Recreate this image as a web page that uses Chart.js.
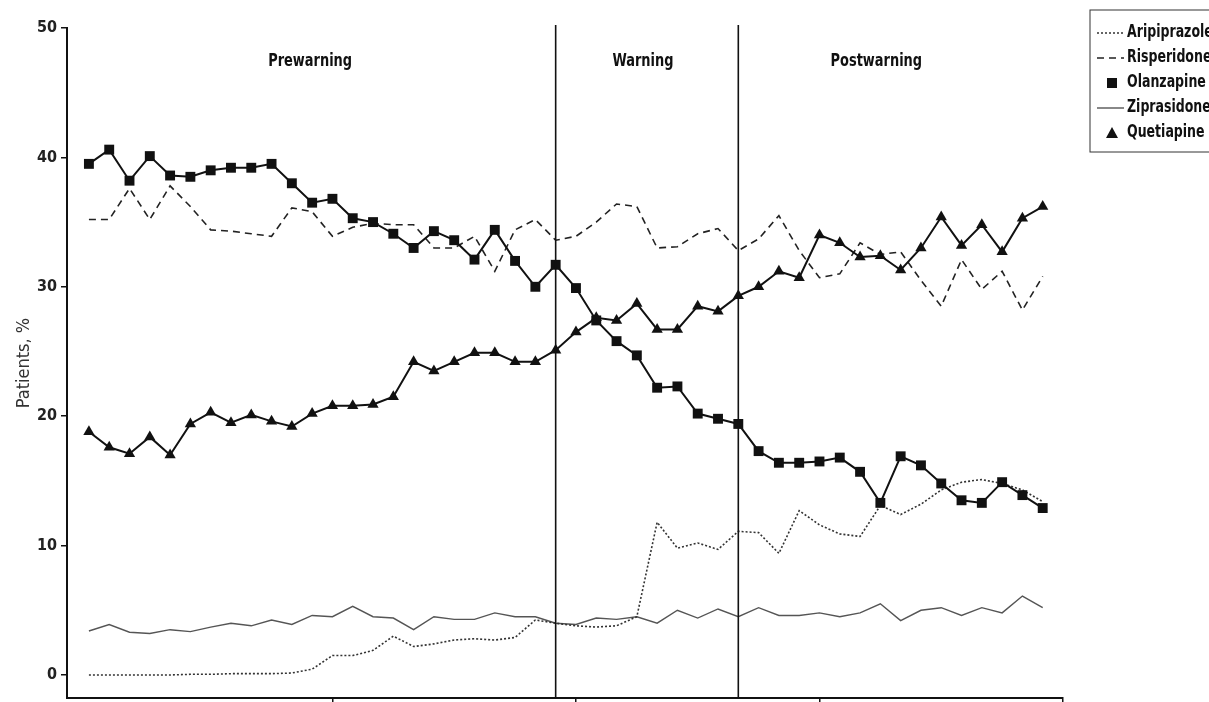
<!DOCTYPE html>
<html lang="en">
<head>
<meta charset="UTF-8">
<title>Antipsychotic use by period</title>
<script src="https://cdn.jsdelivr.net/npm/chart.js"></script>
<style>
  html, body { margin: 0; padding: 0; background: #fff; }
  #wrap { width: 1209px; height: 702px; }
</style>
</head>
<body>
<div id="wrap"><canvas id="myChart" width="1209" height="702"></canvas></div>
<script>
    // month index 0..47
    var meses = [];
    for (var m = 0; m < 48; m++) meses.push(m);

    var aripiprazole = [0.0, 0.0, 0.0, 0.0, 0.0, 0.05, 0.05, 0.1, 0.1, 0.1, 0.15, 0.45,
        1.5, 1.5, 1.9, 3.0, 2.2, 2.4, 2.7, 2.8, 2.7, 2.9, 4.25, 4.0,
        3.8, 3.7, 3.8, 4.5, 11.8, 9.8, 10.2, 9.7, 11.1, 11.0, 9.4, 12.7,
        11.6, 10.9, 10.7, 13.1, 12.4, 13.2, 14.3, 14.9, 15.1, 14.8, 14.3, 13.4];

    var risperidone = [35.2, 35.2, 37.6, 35.2, 37.8, 36.2, 34.4, 34.3, 34.1, 33.9, 36.1, 35.8,
        33.9, 34.6, 34.9, 34.8, 34.8, 33.0, 33.0, 33.9, 31.2, 34.4, 35.2, 33.6,
        33.9, 35.0, 36.4, 36.2, 33.0, 33.1, 34.1, 34.5, 32.8, 33.7, 35.5, 32.8,
        30.7, 31.0, 33.4, 32.5, 32.7, 30.5, 28.5, 32.1, 29.8, 31.2, 28.2, 30.8];

    var olanzapine = [39.5, 40.6, 38.2, 40.1, 38.6, 38.5, 39.0, 39.2, 39.2, 39.5, 38.0, 36.5,
        36.8, 35.3, 35.0, 34.1, 33.0, 34.3, 33.6, 32.1, 34.4, 32.0, 30.0, 31.7,
        29.9, 27.4, 25.8, 24.7, 22.2, 22.3, 20.2, 19.8, 19.4, 17.3, 16.4, 16.4,
        16.5, 16.8, 15.7, 13.3, 16.9, 16.2, 14.8, 13.5, 13.3, 14.9, 13.9, 12.9];

    var ziprasidone = [3.4, 3.9, 3.3, 3.2, 3.5, 3.35, 3.7, 4.0, 3.8, 4.25, 3.9, 4.6,
        4.5, 5.3, 4.5, 4.4, 3.5, 4.5, 4.3, 4.3, 4.8, 4.5, 4.5, 4.0,
        3.9, 4.4, 4.3, 4.5, 4.0, 5.0, 4.4, 5.1, 4.5, 5.2, 4.6, 4.6,
        4.8, 4.5, 4.8, 5.5, 4.2, 5.0, 5.2, 4.6, 5.2, 4.8, 6.1, 5.2];

    var quetiapine = [18.8, 17.6, 17.1, 18.4, 17.0, 19.4, 20.3, 19.5, 20.1, 19.6, 19.2, 20.2,
        20.8, 20.8, 20.9, 21.5, 24.2, 23.5, 24.2, 24.9, 24.9, 24.2, 24.2, 25.1,
        26.5, 27.6, 27.4, 28.7, 26.7, 26.7, 28.5, 28.1, 29.3, 30.0, 31.2, 30.7,
        34.0, 33.4, 32.3, 32.4, 31.3, 33.0, 35.4, 33.2, 34.8, 32.7, 35.3, 36.2];

    var ticksY = [0, 10, 20, 30, 40, 50];
    var ticksX = [12, 24, 36, 48];

    // periodos: limites (indice do mes) e nomes
    var limitesPeriodo = [23, 32];
    var nomesPeriodo = ['Prewarning', 'Warning', 'Postwarning'];
    var centrosPeriodo = [10.9, 27.3, 38.8];

    var fonte = "'Liberation Sans Narrow', 'DejaVu Sans Condensed', 'Arial Narrow', sans-serif";

    function pontos(serie) {
        return serie.map(function (v, i) { return { x: meses[i], y: v }; });
    }

    // texto mais estreito (a fonte do original e condensada)
    function textoEstreito(ctx, txt, x, y, fator) {
        ctx.save();
        ctx.translate(x, y);
        ctx.scale(fator, 1);
        ctx.fillText(txt, 0, 0);
        ctx.restore();
    }

    var dados = {
        datasets: [{
            label: 'Aripiprazole',
            data: pontos(aripiprazole),
            borderColor: '#333',
            borderWidth: 1.6,
            borderDash: [2, 2],
            pointRadius: 0,
            order: 1
        }, {
            label: 'Risperidone',
            data: pontos(risperidone),
            borderColor: '#222',
            borderWidth: 1.6,
            borderDash: [7, 5],
            pointRadius: 0,
            order: 1
        }, {
            label: 'Olanzapine',
            data: pontos(olanzapine),
            borderColor: '#111',
            backgroundColor: '#111',
            borderWidth: 2,
            pointStyle: 'rect',
            pointRadius: 7,
            pointBorderWidth: 0,
            order: 0
        }, {
            label: 'Ziprasidone',
            data: pontos(ziprasidone),
            borderColor: '#555',
            borderWidth: 1.4,
            pointRadius: 0,
            order: 1
        }, {
            label: 'Quetiapine',
            data: pontos(quetiapine),
            borderColor: '#111',
            backgroundColor: '#111',
            borderWidth: 2,
            pointStyle: 'triangle',
            pointRadius: 6.5,
            pointBorderWidth: 0,
            order: 0
        }]
    };

    // linhas verticais, nomes dos periodos e legenda
    var extras = {
        id: 'extras',
        afterDraw: function (chart) {
            var ctx = chart.ctx;
            var xs = chart.scales.x, ys = chart.scales.y;
            var area = chart.chartArea;
            ctx.save();

            ctx.strokeStyle = '#111';
            ctx.lineWidth = 1.6;
            limitesPeriodo.forEach(function (b) {
                var x = xs.getPixelForValue(b);
                ctx.beginPath();
                ctx.moveTo(x, area.top - 3);
                ctx.lineTo(x, area.bottom);
                ctx.stroke();
            });

            ctx.fillStyle = '#111';
            ctx.font = 'bold 18px ' + fonte;
            ctx.textAlign = 'center';
            ctx.textBaseline = 'middle';
            nomesPeriodo.forEach(function (n, i) {
                textoEstreito(ctx, n, xs.getPixelForValue(centrosPeriodo[i]), ys.getPixelForValue(47.4), 0.8);
            });

            // legenda
            var lx = 1090, ly = 10;
            ctx.strokeStyle = '#333';
            ctx.lineWidth = 1;
            ctx.strokeRect(lx, ly, 130, 142);
            ctx.font = 'bold 17px ' + fonte;
            ctx.textAlign = 'left';
            chart.data.datasets.forEach(function (ds, i) {
                var y = ly + 23 + i * 25;
                ctx.strokeStyle = ds.borderColor;
                ctx.fillStyle = '#111';
                if (ds.pointStyle === 'rect') {
                    ctx.fillRect(1107, y - 5, 10, 10);
                } else if (ds.pointStyle === 'triangle') {
                    ctx.beginPath();
                    ctx.moveTo(1112, y - 6);
                    ctx.lineTo(1118, y + 5);
                    ctx.lineTo(1106, y + 5);
                    ctx.closePath();
                    ctx.fill();
                } else {
                    ctx.lineWidth = ds.borderWidth;
                    ctx.setLineDash(ds.borderDash || []);
                    ctx.beginPath();
                    ctx.moveTo(1097, y);
                    ctx.lineTo(1124, y);
                    ctx.stroke();
                    ctx.setLineDash([]);
                }
                ctx.fillStyle = '#111';
                textoEstreito(ctx, ds.label, 1127, y, 0.82);
            });
            ctx.restore();
        }
    };

    var opcoes = {
        responsive: false,
        animation: false,
        layout: { autoPadding: false, padding: { left: 0, right: 146, top: 28, bottom: 0 } },
        plugins: { legend: { display: false }, tooltip: { enabled: false } },
        scales: {
            x: {
                type: 'linear',
                min: -1.08,
                max: 48,
                afterBuildTicks: function (s) { s.ticks = ticksX.map(function (v) { return { value: v }; }); },
                afterFit: function (s) { s.height = 4; s.paddingLeft = 0; s.paddingRight = 0; },
                ticks: { display: false },
                grid: { drawOnChartArea: false, tickLength: 6, color: '#111', lineWidth: 1.5 },
                border: { color: '#111', width: 2 }
            },
            y: {
                min: -1.78,
                max: 50,
                afterBuildTicks: function (s) { s.ticks = ticksY.map(function (v) { return { value: v }; }); },
                afterFit: function (s) { s.width = 67; s.paddingTop = 0; s.paddingBottom = 0; },
                ticks: { color: '#222', padding: 4, font: { family: fonte, size: 16, weight: 'bold' } },
                title: { display: true, text: 'Patients, %', color: '#333', padding: { top: 14, bottom: 0 }, font: { family: fonte, size: 18 } },
                grid: { drawOnChartArea: false, tickLength: 6, color: '#111', lineWidth: 1.5 },
                border: { color: '#111', width: 2 }
            }
        }
    };

    var myChart = new Chart(document.getElementById('myChart'), {
        type: 'line',
        data: dados,
        options: opcoes,
        plugins: [extras]
    });
</script>
</body>
</html>
